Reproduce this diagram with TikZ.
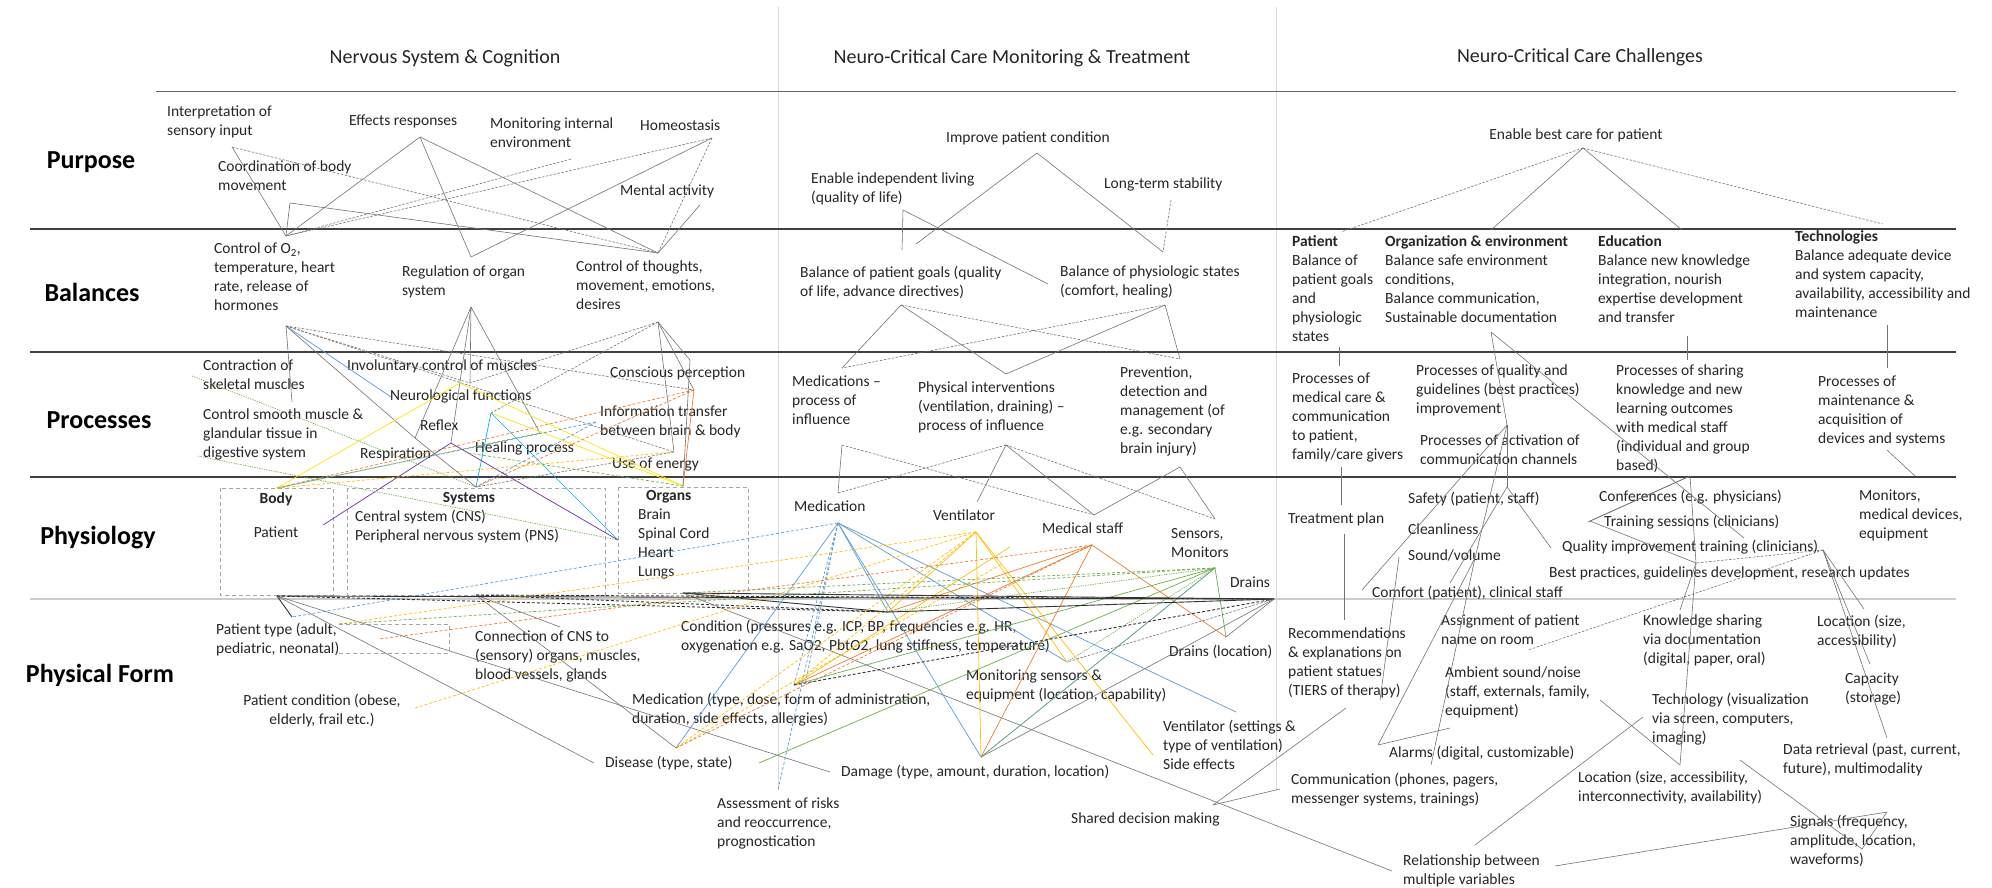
\documentclass[tikz,border=0pt]{standalone}
\usepackage{fontspec}
\setmainfont{Carlito}
\definecolor{cblue}{RGB}{91,155,213}
\definecolor{cyel}{RGB}{255,192,0}
\definecolor{cbyel}{RGB}{255,230,0}
\definecolor{corg}{RGB}{237,125,49}
\definecolor{cgrn}{RGB}{112,173,71}
\definecolor{cpur}{RGB}{112,48,160}
\definecolor{ccya}{RGB}{0,176,240}
\begin{document}
\begin{tikzpicture}[x=1pt,y=-1pt,
  t/.style={anchor=north west,inner sep=0pt,align=left,font=\fontsize{15.5}{19}\selectfont,text=black!85},
  tc/.style={anchor=north,inner sep=0pt,align=center,font=\fontsize{15.5}{19}\selectfont,text=black!85},
  hdr/.style={inner sep=0pt,font=\fontsize{20}{24}\selectfont,text=black!85},
  rl/.style={inner sep=0pt,font=\fontsize{26}{30}\selectfont\bfseries,text=black},
  g/.style={draw=black!55,line width=0.6pt},
  gd/.style={g,dash pattern=on 2.5pt off 1.5pt},
  gk/.style={draw=black!80,line width=0.9pt},
  gkd/.style={gk,dash pattern=on 3pt off 2pt},
  bl/.style={draw=cblue,line width=0.7pt},
  bld/.style={bl,dash pattern=on 3pt off 2pt},
  yl/.style={draw=cyel,line width=0.7pt},
  yld/.style={yl,dash pattern=on 3pt off 2pt},
  by/.style={draw=cbyel,line width=0.7pt},
  og/.style={draw=corg,line width=0.7pt},
  ogd/.style={og,dash pattern=on 3pt off 2pt},
  gr/.style={draw=cgrn,line width=0.7pt},
  grd/.style={gr,dash pattern=on 3pt off 2pt},
  grdot/.style={gr,dash pattern=on 1.2pt off 1.2pt},
  pu/.style={draw=cpur,line width=0.7pt},
  cy/.style={draw=ccya,line width=0.7pt},
  rowline/.style={draw=black!75,line width=1.4pt},
  dbox/.style={draw=black!35,line width=0.8pt,dash pattern=on 4pt off 3pt}
]
\fill[white] (0,0) rectangle (1992,887);
\useasboundingbox (0,0) rectangle (1992,887);

% ---------- frame lines
\draw[draw=black!15,line width=0.8pt] (778,7) -- (778,790);
\draw[draw=black!15,line width=0.8pt] (1276,7) -- (1276,790);
\draw[draw=black!60,line width=1pt] (156,91) -- (1956,91);
\draw[rowline] (30,229) -- (1956,229);
\draw[rowline] (30,352) -- (1956,352);
\draw[rowline] (30,477) -- (1956,477);
\draw[draw=black!20,line width=1.2pt] (30,599) -- (1956,599);

% ---------- headers and row labels
\node[hdr] (h1) at (445,58) {Nervous System \& Cognition};
\node[hdr] (h2) at (1012,58) {Neuro-Critical Care Monitoring \& Treatment};
\node[hdr] (h3) at (1580,57) {Neuro-Critical Care Challenges};
\node[rl] (lpur) at (91,162) {Purpose};
\node[rl] (lbal) at (92,292) {Balances};
\node[rl] (lpro) at (99,420) {Processes};
\node[rl] (lphy) at (98,538) {Physiology};
\node[rl] (lpf) at (100,675) {Physical Form};

% ---------- Purpose
\node[t] (interp) at (167,106) {Interpretation of\\sensory input};
\node[t] (effects) at (349,115) {Effects responses};
\node[t] (monitor) at (490,118) {Monitoring internal\\environment};
\node[t] (homeo) at (640,120) {Homeostasis};
\node[t] (coord) at (218,161) {Coordination of body\\movement};
\node[t] (mental) at (620,185) {Mental activity};
\node[tc,anchor=center] (improve) at (1028,138) {Improve patient condition};
\node[t] (enable) at (811,173) {Enable independent living\\(quality of life)};
\node[t] (longterm) at (1104,178) {Long-term stability};
\node[tc,anchor=center] (best) at (1576,135) {Enable best care for patient};

% ---------- Balances
\node[t] (o2) at (214,243) {Control of O\textsubscript{2},\\temperature, heart\\rate, release of\\hormones};
\node[t] (reg) at (402,266) {Regulation of organ\\system};
\node[t] (thoughts) at (576,261) {Control of thoughts,\\movement, emotions,\\desires};
\node[t] (bpg) at (800,266) {Balance of patient goals (quality\\of life, advance directives)};
\node[t] (bps) at (1060,266) {Balance of physiologic states\\(comfort, healing)};
\node[t] (patient) at (1292,235) {\textbf{Patient}\\Balance of\\patient goals\\and\\physiologic\\states};
\node[t] (org) at (1385,235) {\textbf{Organization \& environment}\\Balance safe environment\\conditions,\\Balance communication,\\Sustainable documentation};
\node[t] (edu) at (1598,235) {\textbf{Education}\\Balance new knowledge\\integration, nourish\\expertise development\\and transfer};
\node[t] (tech) at (1795,230) {\textbf{Technologies}\\Balance adequate device\\and system capacity,\\availability, accessibility and\\maintenance};

% ---------- Processes
\node[t] (contraction) at (203,360) {Contraction of\\skeletal muscles};
\node[t] (involuntary) at (347,360) {Involuntary control of muscles};
\node[t] (conscious) at (610,367) {Conscious perception};
\node[t] (neuro) at (390,390) {Neurological functions};
\node[t] (smooth) at (203,409) {Control smooth muscle \&\\glandular tissue in\\digestive system};
\node[t] (reflex) at (420,420) {Reflex};
\node[t] (info) at (600,406) {Information transfer\\between brain \& body};
\node[t] (respiration) at (360,448) {Respiration};
\node[t] (healing) at (475,442) {Healing process};
\node[t] (energy) at (612,458) {Use of energy};
\node[t] (medproc) at (792,376) {Medications \textendash\\process of\\influence};
\node[t] (physint) at (918,382) {Physical interventions\\(ventilation, draining) \textendash\\process of influence};
\node[t] (prevent) at (1120,367) {Prevention,\\detection and\\management (of\\e.g. secondary\\brain injury)};
\node[t] (pmed) at (1292,373) {Processes of\\medical care \&\\communication\\to patient,\\family/care givers};
\node[t] (pqual) at (1416,365) {Processes of quality and\\guidelines (best practices)\\improvement};
\node[t] (pact) at (1420,435) {Processes of activation of\\communication channels};
\node[t] (pshare) at (1616,365) {Processes of sharing\\knowledge and new\\learning outcomes\\with medical staff\\(individual and group\\based)};
\node[t] (pmaint) at (1818,376) {Processes of\\maintenance \&\\acquisition of\\devices and systems};

% ---------- Physiology
\draw[dbox] (220,488) rectangle (333,595);
\draw[dbox] (347,488) rectangle (605,595);
\draw[dbox] (618,487) rectangle (748,593);
\node[tc,anchor=center,font=\fontsize{15.5}{19}\selectfont\bfseries] (body) at (276,499) {Body};
\node[tc,anchor=center] (ptbody) at (276,532) {Patient};
\node[tc,anchor=center,font=\fontsize{15.5}{19}\selectfont\bfseries] (systems) at (469,499) {Systems};
\node[t] (cns) at (355,510) {Central system (CNS)\\Peripheral nervous system (PNS)};
\node[t] (organs) at (638,490) {\hspace*{8pt}\textbf{Organs}\\Brain\\Spinal Cord\\Heart\\Lungs};
\node[t] (medication) at (794,501) {Medication};
\node[t] (ventilator) at (933,510) {Ventilator};
\node[t] (medstaff) at (1042,523) {Medical staff};
\node[t] (sensors) at (1171,528) {Sensors,\\Monitors};
\node[t] (drains) at (1230,577) {Drains};
\node[t] (treatment) at (1288,513) {Treatment plan};
\node[t] (safety) at (1408,492) {Safety (patient, staff)};
\node[t] (clean) at (1408,524) {Cleanliness};
\node[t] (sound) at (1408,550) {Sound/volume};
\node[t] (comfort) at (1372,586) {Comfort (patient), clinical staff};
\node[t] (conf) at (1599,490) {Conferences (e.g. physicians)};
\node[t] (training) at (1604,515) {Training sessions (clinicians)};
\node[t] (qualtrain) at (1562,540) {Quality improvement training (clinicians)};
\node[t] (bestpr) at (1549,567) {Best practices, guidelines development, research updates};
\node[t] (monitors) at (1859,490) {Monitors,\\medical devices,\\equipment};

% ---------- Physical form
\draw[dbox] (339,624) -- (449,624) -- (449,653) -- (339,653);
\node[t] (ptype) at (216,623) {Patient type (adult,\\pediatric, neonatal)};
\node[t] (connection) at (475,631) {Connection of CNS to\\(sensory) organs, muscles,\\blood vessels, glands};
\node[tc] (ptcond) at (322,694) {Patient condition (obese,\\elderly, frail etc.)};
\node[t] (condition) at (681,620) {Condition (pressures e.g. ICP, BP, frequencies e.g. HR,\\oxygenation e.g. SaO2, PbtO2, lung stiffness, temperature)};
\node[t] (medpf) at (632,693) {Medication (type, dose, form of administration,\\duration, side effects, allergies)};
\node[t] (disease) at (605,756) {Disease (type, state)};
\node[t] (damage) at (841,765) {Damage (type, amount, duration, location)};
\node[t] (assess) at (717,798) {Assessment of risks\\and reoccurrence,\\prognostication};
\node[t] (drainsloc) at (1169,645) {Drains (location)};
\node[t] (monsens) at (966,670) {Monitoring sensors \&\\equipment (location, capability)};
\node[t] (ventset) at (1163,720) {Ventilator (settings \&\\type of ventilation)\\Side effects};
\node[t] (shared) at (1071,813) {Shared decision making};
\node[t] (recomm) at (1288,628) {Recommendations\\\& explanations on\\patient statues\\(TIERS of therapy)};
\node[t] (assign) at (1441,615) {Assignment of patient\\name on room};
\node[t] (ambient) at (1445,667) {Ambient sound/noise\\(staff, externals, family,\\equipment)};
\node[t] (alarms) at (1389,746) {Alarms (digital, customizable)};
\node[t] (comm) at (1291,773) {Communication (phones, pagers,\\messenger systems, trainings)};
\node[t] (relation) at (1403,855) {Relationship between\\multiple variables};
\node[t] (knowledge) at (1643,615) {Knowledge sharing\\via documentation\\(digital, paper, oral)};
\node[t] (techpf) at (1652,693) {Technology (visualization\\via screen, computers,\\imaging)};
\node[t] (loc2) at (1578,771) {Location (size, accessibility,\\interconnectivity, availability)};
\node[t] (loc1) at (1817,615) {Location (size,\\accessibility)};
\node[t] (capacity) at (1845,673) {Capacity\\(storage)};
\node[t] (dataret) at (1783,743) {Data retrieval (past, current,\\future), multimodality};
\node[t] (signals) at (1790,815) {Signals (frequency,\\amplitude, location,\\waveforms)};

% ---------- connection points
\coordinate (aInt) at (232,147); \coordinate (aEff) at (420,137);
\coordinate (aMon) at (571,159); \coordinate (aHom) at (712,138);
\coordinate (aCoo) at (290,203); \coordinate (aMen) at (700,205);
\coordinate (aO2t) at (286,236); \coordinate (aRegt) at (471,257); \coordinate (aThot) at (658,253);
\coordinate (aO2b) at (286,326); \coordinate (aRegb) at (471,307); \coordinate (aThob) at (658,322);
\coordinate (aImp) at (1037,153); \coordinate (aEna) at (903,210); \coordinate (aLong) at (1171,200);
\coordinate (aBpgT) at (916,244); \coordinate (aBpgT2) at (902,250);
\coordinate (aBpsL) at (1048,284); \coordinate (aBpsT) at (1163,252);
\coordinate (aBpgB) at (901,305); \coordinate (aBpsB) at (1165,305);
\coordinate (aMedpT) at (842,368); \coordinate (aPhysT) at (1006,374); \coordinate (aPrevT) at (1180,359);
\coordinate (aMedpB) at (842,445); \coordinate (aPhysB) at (1006,445); \coordinate (aPrevB) at (1180,467);
\coordinate (aMedicT) at (838,493); \coordinate (aVentT) at (977,502);
\coordinate (aStaffT) at (1094,515); \coordinate (aSensT) at (1215,519);
\coordinate (aMedic) at (838,523); \coordinate (aVent) at (976,532);
\coordinate (aStaff) at (1092,545); \coordinate (aSens) at (1215,568); \coordinate (aDrain) at (1274,599);
\coordinate (aCond) at (888,612); \coordinate (aMedPF) at (794,685); \coordinate (aMedPF2) at (805,685);
\coordinate (aMonS) at (1067,662); \coordinate (aDrLoc) at (1226,637);
\coordinate (aVentS) at (1236,712); \coordinate (aVentSL) at (1153,755);
\coordinate (aDam) at (981,757); \coordinate (aDamL) at (830,772);
\coordinate (aDis) at (676,748); \coordinate (aDisL) at (594,763); \coordinate (aDisR) at (759,763);
\coordinate (aAss) at (778,790); \coordinate (aShared) at (1213,805);
\coordinate (aVentR) at (1010,547); \coordinate (aVentR2) at (1002,564);
\coordinate (phBodyT) at (277,488); \coordinate (phSysT) at (476,487); \coordinate (phOrgT) at (683,486);
\coordinate (phOrgL) at (618,540); \coordinate (phBodyR) at (323,525);
\coordinate (phBodyB) at (277,596); \coordinate (phSysB) at (476,595); \coordinate (phOrgB) at (683,593);
\coordinate (aPtype) at (292,617); \coordinate (aPtBox) at (339,624); \coordinate (aConnT) at (560,627);
\coordinate (aPtcond) at (415,708); \coordinate (aConnL) at (379,639);
\coordinate (aConB) at (292,402); \coordinate (aConL) at (192,376); \coordinate (aNeuL) at (391,397);
\coordinate (aRef) at (415,438); \coordinate (aInv) at (470,383); \coordinate (aInvY) at (460,383);
\coordinate (aConsT) at (690,360); \coordinate (aInfoO) at (694,390); \coordinate (aInfoB) at (596,422);
\coordinate (aHealT) at (540,433); \coordinate (aEnerT) at (674,452); \coordinate (aResp) at (451,443);
\coordinate (aNeuB) at (491,413); \coordinate (aSmooth) at (198,456); \coordinate (aHealL) at (468,453);
\coordinate (aBest) at (1583,148); \coordinate (aPatT) at (1341,232); \coordinate (aOrgT) at (1491,230);
\coordinate (aEduT) at (1682,230); \coordinate (aTechT) at (1883,224);
\coordinate (aPatB) at (1339,347); \coordinate (aPmedT) at (1339,366);
\coordinate (aPmedB) at (1341,467); \coordinate (aTreatT) at (1341,505);
\coordinate (aTreatB) at (1344,534); \coordinate (aRecT) at (1344,620);
\coordinate (aOrgB) at (1491,332); \coordinate (aPq) at (1507,425); \coordinate (aSafR) at (1507,487);
\coordinate (aEduB) at (1687,336); \coordinate (aPshT) at (1687,360);
\coordinate (aTechB) at (1887,325); \coordinate (aPmT) at (1887,368);
\coordinate (aPmB) at (1887,450); \coordinate (aMonT) at (1915,476);
\coordinate (aPshB) at (1690,476); \coordinate (aTrainL) at (1590,521); \coordinate (aBestT) at (1696,563);
\coordinate (aQualT) at (1744,538);
\coordinate (hMon) at (1823,550); \coordinate (aLoc1T) at (1864,609); \coordinate (aCapT) at (1870,664);
\coordinate (aDataT) at (1887,738); \coordinate (aSigT) at (1887,812); \coordinate (aSigV) at (1862,849);
\coordinate (aTechB2) at (1740,760); \coordinate (aTechL) at (1643,717);
\coordinate (aRelL) at (1392,871); \coordinate (aRelR) at (1555,866); \coordinate (aRelT) at (1475,845);
\coordinate (aRecB) at (1346,708); \coordinate (aCommL) at (1280,789); \coordinate (aAlarm) at (1378,745);
\coordinate (aComfL) at (1362,590); \coordinate (aComfT) at (1450,583); \coordinate (aQualL) at (1551,548);
\coordinate (aAmbT) at (1470,660); \coordinate (aAmbB) at (1450,728); \coordinate (aAmbR) at (1528,650);
\coordinate (aSoundR) at (1475,558); \coordinate (aSoundL) at (1399,557); \coordinate (aRecR) at (1380,700);
\coordinate (aCommT) at (1431,765); \coordinate (aLoc2T) at (1680,765); \coordinate (aAmbR2) at (1600,700);
\coordinate (aKnowT) at (1680,610); \coordinate (aConfL) at (1588,522);

% ---------- Purpose -> Balances
\draw[g] (aInt) -- (aO2t);  \draw[gd] (aInt) -- (aThot);
\draw[g] (aEff) -- (aO2t);  \draw[g] (aEff) -- (aRegt); \draw[g] (aEff) -- (aThot);
\draw[gd] (aMon) -- (aO2t); \draw[gd] (aHom) -- (aO2t); \draw[g] (aHom) -- (aRegt);
\draw[g] (aCoo) -- (aO2t);  \draw[g] (aCoo) -- (aThot); \draw[g] (aMen) -- (aThot);
\draw[gd] (aHom) -- (aThot);
\draw[g] (aImp) -- (aBpgT); \draw[g] (aImp) -- (aBpsT);
\draw[g] (aEna) -- (aBpgT2); \draw[g] (aEna) -- (aBpsL); \draw[gd] (aLong) -- (aBpsT);
\draw[gd] (aBest) -- (aPatT); \draw[g] (aBest) -- (aOrgT); \draw[g] (aBest) -- (aEduT); \draw[gd] (aBest) -- (aTechT);

% ---------- Balances -> Processes
\draw[g] (aO2b) -- (aConB); \draw[bl] (aO2b) -- (aNeuL); \draw[g] (aO2b) -- (aRef);
\draw[gd] (aO2b) -- (aInv); \draw[gd] (aO2b) -- (aInfoO); \draw[gd] (aO2b) -- (aEnerT);
\draw[g] (aRegb) -- (aRef); \draw[g] (aRegb) -- (aInv); \draw[g] (aRegb) -- (aHealT);
\draw[g] (aRegb) -- (aResp);
\draw[gd] (aThob) -- (aInv); \draw[g] (aThob) -- (aConsT); \draw[g] (aThob) -- (aEnerT);
\draw[g] (aThob) -- (aInfoO); \draw[gd] (aThob) -- (aNeuB);
\draw[g] (aBpgB) -- (aMedpT); \draw[g] (aBpgB) -- (aPhysT); \draw[gd] (aBpgB) -- (aPrevT);
\draw[gd] (aBpsB) -- (aMedpT); \draw[g] (aBpsB) -- (aPhysT); \draw[g] (aBpsB) -- (aPrevT);
\draw[g] (aPatB) -- (aPmedT); \draw[g] (aOrgB) -- (aPq); \draw[g] (aOrgB) -- (aQualT);
\draw[g] (aEduB) -- (aPshT); \draw[g] (aTechB) -- (aPmT);

% ---------- Processes -> Physiology (col 1)
\draw[by] (aInvY) -- (phBodyT); \draw[by] (aInvY) -- (phOrgT); \draw[by] (aNeuB) -- (phOrgT);
\draw[bld] (aInfoB) -- (phBodyT); \draw[bld] (aInfoB) -- (phSysT);
\draw[cy] (aNeuB) -- (phSysT); \draw[cy] (aNeuB) -- (phOrgL);
\draw[ogd] (aInfoO) -- (phBodyT); \draw[og] (aInfoO) -- (phOrgT); \draw[ogd] (aInfoO) -- (phSysT);
\draw[pu] (aResp) -- (phBodyR); \draw[pu] (aResp) -- (phOrgL);
\draw[grdot] (aConL) -- (phSysT); \draw[grdot] (aSmooth) -- (phOrgL);
\draw[grd] (aHealL) -- (phOrgT); \draw[grd] (phBodyT) -- (aHealT);
\draw[yld] (phBodyT) -- (aEnerT); \draw[gd] (aEnerT) -- (phSysT);
\draw[g] (aRef) -- (phSysT); \draw[g] (aConsT) -- (phOrgT);

% ---------- Processes -> Physiology (col 2, 3)
\draw[g] (aMedpB) -- (aMedicT); \draw[gd] (aMedpB) -- (aStaffT);
\draw[gd] (aPhysB) -- (aMedicT); \draw[g] (aPhysB) -- (aVentT); \draw[g] (aPhysB) -- (aStaffT);
\draw[gd] (aPhysB) -- (aSensT);
\draw[g] (aPrevB) -- (aStaffT); \draw[g] (aPrevB) -- (aSensT);
\draw[g] (aPmedB) -- (aTreatT); \draw[g] (aTreatB) -- (aRecT);
\draw[g] (aPq) -- (aSafR); \draw[g] (aPq) -- (aComfL); \draw[g] (aPq) -- (aSoundR);
\draw[g] (aSafR) -- (aComfT); \draw[g] (aSafR) -- (aQualL);
\draw[g] (aPshB) -- (aTrainL); \draw[g] (aPshB) -- (aBestT);
\draw[g] (aPmB) -- (aMonT);

% ---------- Physiology col 1 -> Physical form
\draw[gk] (phBodyB) -- (aPtype); \draw[g] (phBodyB) -- (aDisL); \draw[g] (phBodyB) -- (aDamL);
\draw[gkd] (phBodyB) -- (aCond); \draw[gkd] (phSysB) -- (aCond); \draw[g] (phSysB) -- (aDis);
\draw[g] (phSysB) -- (aConnT); \draw[gk] (phOrgB) -- (aCond); \draw[g] (phOrgB) -- (aRelL);

% ---------- Physiology col 2 -> Physical form
\draw[bld] (aMedic) -- (aPtype); \draw[bl] (aMedic) -- (aCond); \draw[bld] (aMedic) -- (aMedPF);
\draw[bld] (aMedic) -- (aMedPF2); \draw[bl] (aMedic) -- (aDis); \draw[bl] (aMedic) -- (aDam);
\draw[bl] (aMedic) -- (aMonS); \draw[bl] (aMedic) -- (aVentS); \draw[bld] (aMedic) -- (aAss);
\draw[bl] (aSens) -- (aDam);
\draw[yld] (aVent) -- (aPtBox); \draw[yld] (aVent) -- (aPtcond); \draw[yl] (aVent) -- (aCond);
\draw[yld] (aVent) -- (aMedPF); \draw[yl] (aVent) -- (aDam); \draw[yl] (aVent) -- (aMonS);
\draw[yl] (aVent) -- (aVentSL); \draw[yld] (aVent) -- (aDis);
\draw[yl] (aMedPF) -- (aVentR); \draw[yld] (aDis) -- (aVentR2);
\draw[ogd] (aStaff) -- (aConnL); \draw[og] (aStaff) -- (aMedPF); \draw[og] (aStaff) -- (aDam);
\draw[og] (aStaff) -- (aDrLoc); \draw[ogd] (aStaff) -- (aDis); \draw[og] (aStaff) -- (aCond);
\draw[grd] (aSens) -- (phOrgB); \draw[grd] (aSens) -- (aPtBox); \draw[grdot] (aSens) -- (aCond);
\draw[gr] (aSens) -- (aMedPF); \draw[gr] (aSens) -- (aDisR); \draw[grdot] (aSens) -- (aMonS);
\draw[gr] (aSens) -- (aDrLoc); \draw[grdot] (aSens) -- (aDam);
\draw[gk] (aDrain) -- (phBodyB); \draw[gkd] (aDrain) -- (phSysB); \draw[gk] (aDrain) -- (phOrgB);
\draw[gk] (aDrain) -- (aCond); \draw[g] (aDrain) -- (aDam); \draw[g] (aDrain) -- (aDrLoc);
\draw[gkd] (aDrain) -- (aMedPF); \draw[gd] (aDrain) -- (aMonS);

% ---------- Physiology col 3 -> Physical form
\draw[g] (hMon) -- (aLoc1T); \draw[g] (hMon) -- (aCapT); \draw[g] (hMon) -- (aDataT);
\draw[gd] (hMon) -- (aBestT); \draw[gd] (hMon) -- (aAmbR);
\draw[g] (aBestT) -- (aTrainL); \draw[g] (aBestT) -- (aKnowT); \draw[g] (aBestT) -- (aLoc2T);
\draw[g] (aAmbR2) -- (aLoc2T); \draw[g] (aConfL) -- (aPshB);
\draw[g] (aTechL) -- (aRelT); \draw[g] (aRelR) -- (aSigT);
\draw[g] (aTechB2) -- (aSigV); \draw[g] (aSigV) -- (aSigT);
\draw[g] (aRecB) -- (aShared); \draw[g] (aCommL) -- (aShared);
\draw[g] (aAlarm) -- (aAmbB); \draw[g] (aAlarm) -- (aSoundR);
\draw[g] (aCommT) -- (aSoundR); \draw[g] (aSoundL) -- (aRecR);
\end{tikzpicture}
\end{document}
